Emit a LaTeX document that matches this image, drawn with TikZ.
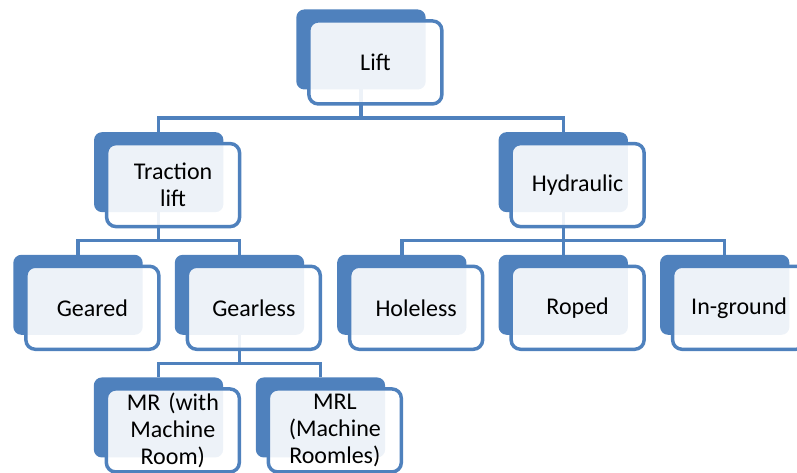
\documentclass[tikz,border=0pt]{standalone}
\usepackage{fontspec}
\setmainfont{Carlito}
\usepackage{tikz}
\usetikzlibrary{positioning}

\definecolor{liftblue}{RGB}{79,129,189}

\begin{document}
\begin{tikzpicture}[
    grow=south,
    level distance=92pt,
    level 1/.style={sibling distance=303.4pt},
    level 2/.style={sibling distance=121.1pt},
    level 3/.style={sibling distance=121.5pt},
    edge from parent/.style={draw, liftblue, line width=2.6pt},
    edge from parent path={(\tikzparentnode.south) -- ++(0,-21.4pt) -| (\tikzchildnode.north)},
    back/.style={fill=liftblue, rounded corners=6pt, minimum width=97pt, minimum height=60pt, inner sep=0pt, outer sep=0pt},
    front/.style={draw=liftblue, line width=2.6pt, fill=white, fill opacity=0.9, text opacity=1, rounded corners=7pt,
        minimum width=99.75pt, minimum height=62.25pt, inner sep=0pt, outer sep=0pt,
        text width=85pt, align=center, font=\fontsize{18}{20.5}\selectfont}
]
    \useasboundingbox (0,0) rectangle (597.75pt,-354pt);
    \clip (0,0) rectangle (597.75pt,-354pt);

    % blue back plates and connectors
    \node[back] (lift) at (270.75pt,-37.1pt) {}
        child {node[back] (traction) {}
            child {node[back] (geared) {}}
            child {node[back] (gearless) {}
                child {node[back] (mr) {}}
                child {node[back] (mrl) {}}
            }
        }
        child {node[back] (hydraulic) {}
            child {node[back] (holeless) {}}
            child {node[back] (roped) {}}
            child {node[back] (inground) {}}
        };

    % white text boxes on top
    \foreach \nm/\txt in {lift/Lift, traction/{Traction\\lift}, hydraulic/Hydraulic,
        geared/Geared, gearless/Gearless, holeless/Holeless, roped/Roped, inground/In-ground,
        mr/{MR (with\\Machine\\Room)}, mrl/{MRL\\(Machine\\Roomles)}}
        \node[front, below right=8.6pt and 9.4pt of \nm.north west] (\nm-f) {\txt};
\end{tikzpicture}
\end{document}
